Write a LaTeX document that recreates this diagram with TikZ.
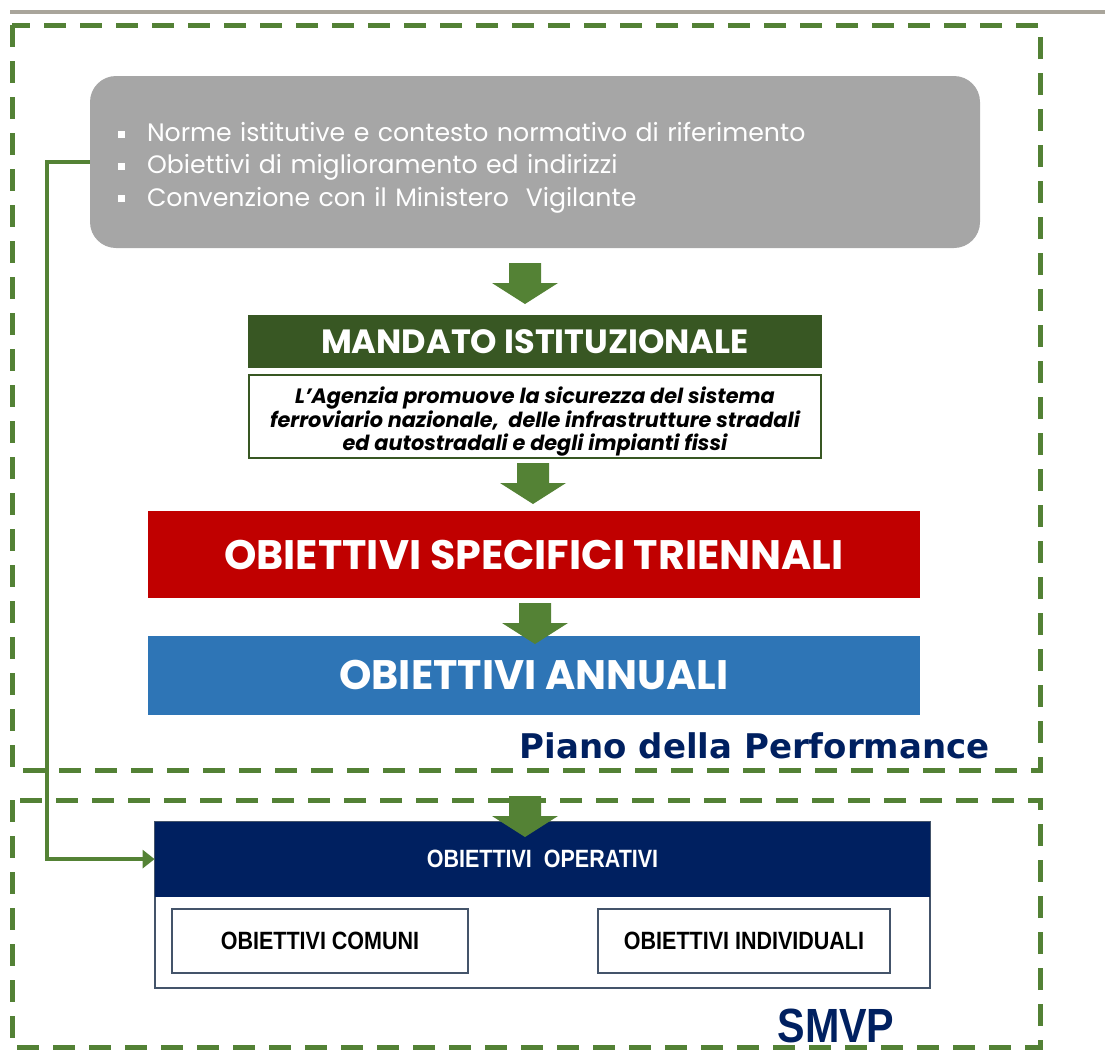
\documentclass[tikz,border=0pt]{standalone}
\usepackage{fontspec}
\setmainfont{Poppins}
\newfontfamily\pianofont{DejaVu Sans}
\newfontfamily\narrowfont[FakeStretch=0.86]{Liberation Sans}
\usetikzlibrary{positioning,arrows.meta}

\definecolor{dashgreen}{HTML}{538135}
\definecolor{arrowgreen}{HTML}{548235}
\definecolor{mandgreen}{HTML}{385723}
\definecolor{boxgray}{HTML}{A6A6A6}
\definecolor{rulegray}{HTML}{A9A59B}
\definecolor{trired}{HTML}{C00000}
\definecolor{annblue}{HTML}{2E75B6}
\definecolor{navy}{HTML}{002060}
\definecolor{slate}{HTML}{44546A}

\tikzset{
  dashbox/.style={draw=dashgreen,line width=2.5pt,dash pattern=on 11pt off 7pt},
  graybox/.style={fill=boxgray,rounded corners=13pt,minimum width=445pt,minimum height=86pt,
    text width=417pt,inner xsep=14pt,align=left,text=white,font=\fontsize{12.6}{16.2}\selectfont},
  bandbox/.style={minimum width=386pt,text=white,font=\bfseries\fontsize{20.6}{24}\selectfont},
  mandbox/.style={fill=mandgreen,minimum width=287pt,minimum height=26.5pt,text=white,
    font=\bfseries\fontsize{16.8}{18}\selectfont},
  mandtext/.style={draw=mandgreen,line width=1pt,minimum width=286pt,minimum height=41.5pt,
    align=center,inner xsep=1pt,inner ysep=0pt,font=\bfseries\itshape\fontsize{10.4}{11.8}\selectfont},
  opbox/.style={draw=slate,line width=0.8pt,minimum width=148pt,minimum height=32pt,
    font=\narrowfont\bfseries\fontsize{12.5}{14}\selectfont},
  feedback/.style={draw=arrowgreen,line width=2pt,-{Triangle[length=6pt,width=9pt]}},
  blockarrow/.pic={\fill[arrowgreen] (-16,0) -- (-16,20) -- (-33,20) -- (0,41) -- (33,20)
    -- (16,20) -- (16,0) -- cycle;}
}
\newcommand\sqbullet{\raisebox{1.8pt}{\rule{3.5pt}{3.5pt}}\hspace{11pt}}

\begin{document}
\begin{tikzpicture}[x=0.5pt,y=-0.5pt]
\useasboundingbox (0,0) rectangle (1105,1050);
\draw[rulegray,line width=2pt] (10,12) -- (1105,12);
\draw[dashbox] (12,25) rectangle (1040,770);
\draw[dashbox] (12,800) rectangle (1040,1047);

\node[graybox] (norme) at (535,162)
  {\rule{0pt}{15pt}\sqbullet Norme istitutive e contesto normativo di riferimento\\
   \sqbullet Obiettivi di miglioramento ed indirizzi\\
   \sqbullet Convenzione con il Ministero\ \ Vigilante};

\node[mandbox] (mandato) at (535,341.5) {MANDATO ISTITUZIONALE};
\node[mandtext,below=3pt of mandato] (agenzia)
  {\rule{0pt}{13pt}L'Agenzia promuove la sicurezza del sistema\\
   ferroviario nazionale,\ \ delle infrastrutture stradali\\
   ed autostradali e degli impianti fissi};

\node[bandbox,fill=trired,minimum height=43.5pt] (triennali) at (534,554.5)
  {OBIETTIVI SPECIFICI TRIENNALI};
\node[bandbox,fill=annblue,minimum height=39.5pt,below=18.5pt of triennali] (annuali)
  {OBIETTIVI ANNUALI};
\node[anchor=east,inner sep=0,text=navy,font=\pianofont\bfseries\fontsize{17}{20}\selectfont]
  (piano) at (990,746) {Piano della Performance};

\node[draw=slate,line width=0.8pt,minimum width=387.5pt,minimum height=83pt] (operativi) at (542.5,905) {};
\node[fill=navy,minimum width=387.5pt,minimum height=37.5pt,text=white,
  font=\narrowfont\bfseries\fontsize{12.5}{14}\selectfont,anchor=north] (ophead) at (operativi.north)
  {OBIETTIVI\ \ OPERATIVI};
\node[opbox] (comuni) at (320,941) {OBIETTIVI COMUNI};
\node[opbox,minimum width=146pt] (individuali) at (744,941) {OBIETTIVI INDIVIDUALI};
\node[anchor=base,inner sep=0,text=navy,font=\narrowfont\bfseries\fontsize{24}{26}\selectfont]
  (smvp) at (836,1042) {SMVP};

\pic at (525,263) {blockarrow};
\pic at (533,463) {blockarrow};
\pic at (535,603) {blockarrow};
\pic at (525,796) {blockarrow};

\draw[feedback] (norme.west) -- ++(-43,0) |- (ophead.west);
\end{tikzpicture}
\end{document}
